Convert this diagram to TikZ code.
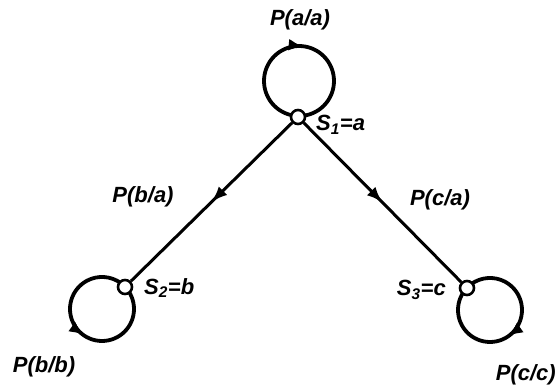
\documentclass[tikz,border=0pt]{standalone}
\usepackage{fontspec}
\setmainfont{Liberation Sans}
\usetikzlibrary{arrows.meta,decorations.markings,calc}
\begin{document}
\begin{tikzpicture}[x=1pt,y=1pt,
  state/.style={circle,draw,fill=white,line width=2.6pt,inner sep=0pt,minimum size=14pt},
  trans/.style={line width=3pt,postaction={decorate},
    decoration={markings,mark=at position 0.5 with {\arrow{Latex[length=16pt,width=12pt]}}}},
  selfloop/.style={line width=3.8pt},
  tip/.style={line width=3.8pt,-{Latex[length=14pt,width=12pt]}},
  lbl/.style={font=\fontsize{22}{24}\selectfont\itshape\bfseries,inner sep=0pt}]
\useasboundingbox (0,0) rectangle (558,385);

% loop centres
\coordinate (c1) at (299,304);
\coordinate (c2) at (102,76);
\coordinate (c3) at (490,75);

% self-loops with their direction marks
\draw[selfloop] (c1) circle (35);
\draw[selfloop] (c2) circle (32);
\draw[selfloop] (c3) circle (32);
\draw[tip] ($(c1)+(105:35)$) arc (105:84:35);
\draw[tip] ($(c2)+(-150:32)$) arc (-150:-126:32);
\draw[tip] ($(c3)+(-30:32)$) arc (-30:-54:32);

% states
\node[state] (s1) at (298,268) {};
\node[state] (s2) at (125,98) {};
\node[state] (s3) at (467,97) {};

% transitions
\draw[trans] (s1) -- (s2);
\draw[trans] (s1) -- (s3);

% labels
\node[lbl] (laa) at (300,365) {P(a/a)};
\node[lbl,anchor=west] (l1) at (316,260) {S\textsubscript{1}=a};
\node[lbl] (lba) at (143,188) {P(b/a)};
\node[lbl,anchor=west] (l2) at (144,97) {S\textsubscript{2}=b};
\node[lbl] (lca) at (440,185) {P(c/a)};
\node[lbl,anchor=east] (l3) at (446,95) {S\textsubscript{3}=c};
\node[lbl] (lbb) at (44,18) {P(b/b)};
\node[lbl,anchor=east] (lcc) at (556,10) {P(c/c)};
\end{tikzpicture}
\end{document}
